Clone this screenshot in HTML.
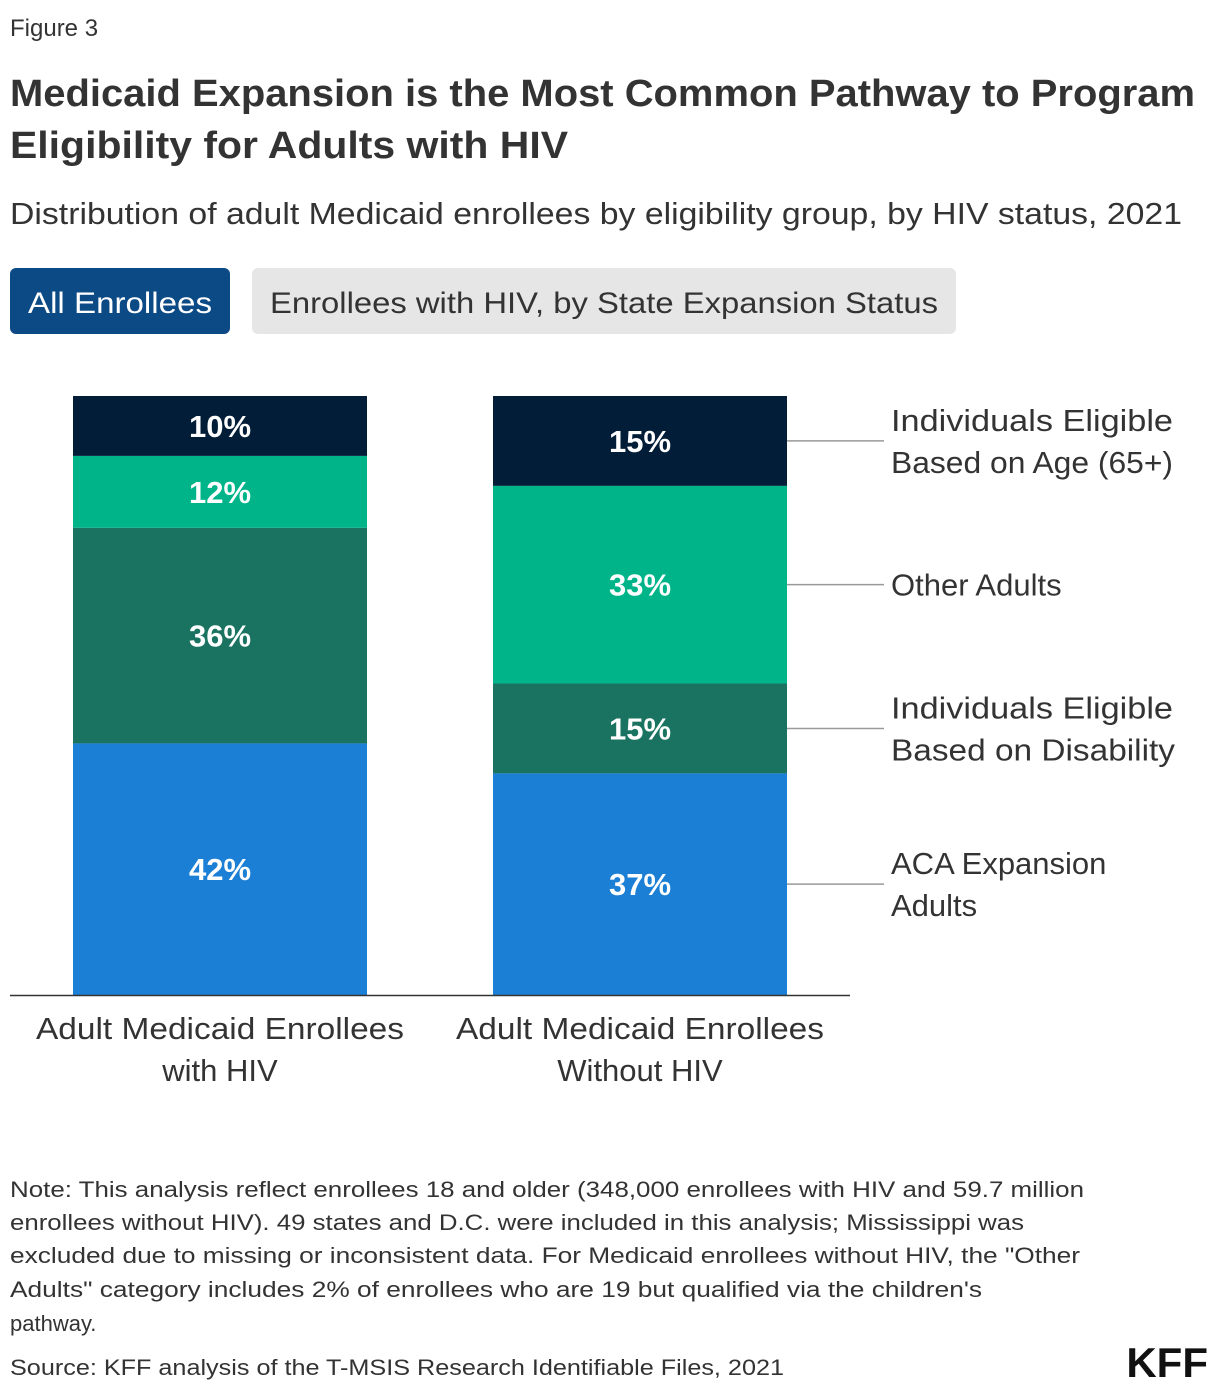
<!DOCTYPE html>
<html><head><meta charset="utf-8"><style>
body{margin:0;background:#fff;}
svg{display:block;font-family:"Liberation Sans",sans-serif;}
</style></head><body>
<svg id="c" width="1220" height="1394" viewBox="0 0 1220 1394">
<text x="10" y="36" font-size="24" fill="#333">Figure  3</text>
<text x="10" y="106" font-size="38" font-weight="bold" fill="#333" textLength="1185" lengthAdjust="spacingAndGlyphs">Medicaid Expansion is the Most Common Pathway to Program</text>
<text x="10" y="158" font-size="38" font-weight="bold" fill="#333" textLength="558" lengthAdjust="spacingAndGlyphs">Eligibility for Adults with HIV</text>
<text x="10" y="224" font-size="31" fill="#333" textLength="1172" lengthAdjust="spacingAndGlyphs">Distribution of adult Medicaid enrollees by eligibility group, by HIV status, 2021</text>
<g><rect x="10" y="268" width="220" height="66" rx="6" fill="#0c4a86"/><text x="120" y="313" font-size="30" fill="#fff" text-anchor="middle" textLength="184" lengthAdjust="spacingAndGlyphs">All Enrollees</text></g>
<g><rect x="252" y="268" width="704" height="66" rx="6" fill="#e6e6e6"/><text x="604" y="313" font-size="30" fill="#333" text-anchor="middle" textLength="668" lengthAdjust="spacingAndGlyphs">Enrollees with HIV, by State Expansion Status</text></g>
<g id="bars"></g>
<line x1="10" y1="995.5" x2="850" y2="995.5" stroke="#333" stroke-width="1.5"/>
<g id="legend"></g>
<g font-size="22" fill="#333">
<text x="10" y="1197" textLength="1074" lengthAdjust="spacingAndGlyphs">Note: This analysis reflect enrollees 18 and older (348,000 enrollees with HIV and 59.7 million</text>
<text x="10" y="1230" textLength="1014" lengthAdjust="spacingAndGlyphs">enrollees without HIV). 49 states and D.C. were included in this analysis; Mississippi was</text>
<text x="10" y="1263" textLength="1070" lengthAdjust="spacingAndGlyphs">excluded due to missing or inconsistent data. For Medicaid enrollees without HIV, the "Other</text>
<text x="10" y="1297" textLength="972" lengthAdjust="spacingAndGlyphs">Adults" category includes 2% of enrollees who are 19 but qualified via the children's</text>
<text x="10" y="1331">pathway.</text>
<text x="10" y="1375" textLength="774" lengthAdjust="spacingAndGlyphs">Source: KFF analysis of the T-MSIS Research Identifiable Files, 2021</text>
</g>
<text x="1208" y="1377" font-size="42" font-weight="bold" fill="#111" text-anchor="end">KFF</text>
</svg>
<script>
const categories=["Adult Medicaid Enrollees|with HIV","Adult Medicaid Enrollees|Without HIV"];
const seriesNames=["ACA Expansion|Adults","Individuals Eligible|Based on Disability","Other Adults","Individuals Eligible|Based on Age (65+)"];
const aca=[42,37];
const disability=[36,15];
const other=[12,33];
const age=[10,15];
const colors=["#1b7fd6","#1a7360","#00b48a","#021d37"];
const series=[aca,disability,other,age];
const NS="http://www.w3.org/2000/svg";
const y0=995,y1=396;
const yScale=v=>y0-(v/100)*(y0-y1);
const barX=[73,493],barW=294;
const bars=document.getElementById('bars');
function mk(t,a,p){const e=document.createElementNS(NS,t);for(const k in a)e.setAttribute(k,a[k]);p.appendChild(e);return e;}
const mids=[];
categories.forEach((cat,i)=>{
  let cum=0;
  series.forEach((s,j)=>{
    const v=s[i];
    const top=yScale(cum+v),bot=yScale(cum);
    const r=mk('rect',{x:barX[i],y:top,width:barW,height:bot-top,fill:colors[j]},bars);
    
    
    const t=mk('text',{x:barX[i]+barW/2,y:(top+bot)/2+11,'font-size':31,fill:'#fff','text-anchor':'middle','font-weight':'bold'},bars);
    t.textContent=v+'%';
    
    
    if(i===categories.length-1)mids.push((top+bot)/2);
    cum+=v;
  });
  const lines=cat.split('|');
  lines.forEach((ln,k)=>{
    const t=mk('text',{x:barX[i]+barW/2,y:1039+k*42,'font-size':31,fill:'#333','text-anchor':'middle'},bars);
    if(!k){t.setAttribute('textLength',368);t.setAttribute('lengthAdjust','spacingAndGlyphs');}
    t.textContent=ln;
    
    
  });
});
const lg=document.getElementById('legend');
seriesNames.forEach((n,j)=>{
  const y=mids[j];
  const l=mk('line',{x1:787,y1:y,x2:884,y2:y,stroke:'#999','stroke-width':1.5},lg);
  
  
  const parts=n.split('|');
  parts.forEach((p,k)=>{
    const t=mk('text',{x:891,y:y+11+(k-(parts.length-1)/2)*42,'font-size':31,fill:'#333'},lg);
    if(p.length>15){t.setAttribute('textLength',p.indexOf('Disab')>=0?284:282);t.setAttribute('lengthAdjust','spacingAndGlyphs');}
    t.textContent=p;
    
    
  });
});
</script>
</body></html>
